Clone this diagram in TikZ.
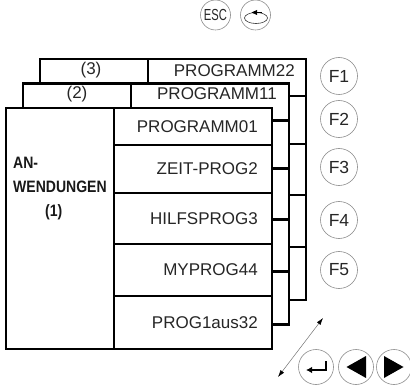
\documentclass[tikz,border=0pt]{standalone}
\usepackage{fontspec}
\setmainfont{Liberation Sans}
\usetikzlibrary{arrows.meta}
\begin{document}
\begin{tikzpicture}[x=1pt,y=-1pt,
  frame/.style={line width=2.6pt, fill=white},
  rowline/.style={line width=2.6pt},
  lbl/.style={font=\fontsize{17}{20}\selectfont, inner sep=0pt, text=black!85},
  keybig/.style={circle, draw=black!45, line width=0.6pt, minimum size=37pt, inner sep=0pt, font=\fontsize{17.5}{19}\selectfont, text=black!85},
  keybot/.style={circle, draw=black!45, line width=0.6pt, minimum size=35pt, inner sep=0pt},
  keysmall/.style={circle, draw=black!45, line width=0.6pt, minimum size=30pt, inner sep=0pt, font=\fontsize{16}{18}\selectfont, text=black!85},
  symb/.style={line width=1.5pt}
]
\useasboundingbox (0,0) rectangle (410,385);

% stacked layers, back to front
\foreach \k in {2,1,0} {
  \begin{scope}[shift={(17*\k,-24.5*\k)}]
    \draw[frame] (6,108) rectangle (272,349);
    \draw[rowline] (114,108) -- (114,349);
    \foreach \yy in {145,193,244,296} \draw[rowline] (114,\yy) -- (272,\yy);
  \end{scope}
}

% back layer labels
\node[lbl, anchor=base] (t3) at (91,75) {(3)};
\node[lbl, anchor=base east] (p22) at (295,77) {PROGRAMM22};
\node[lbl, anchor=base] (t2) at (77,99) {(2)};
\node[lbl, anchor=base east] (p11) at (277,100) {PROGRAMM11};

% front layer
\node[anchor=base west, inner sep=0pt, text=black!90, font=\bfseries\fontsize{16.5}{24}\selectfont] (app) at (13,168.5)
  {\begin{tabular}[t]{@{}l@{}}\scalebox{0.85}[1]{AN-}\\\scalebox{0.85}[1]{WENDUNGEN}\\\hspace{32pt}\scalebox{0.85}[1]{(1)}\end{tabular}};
\node[lbl, anchor=base east] (r1) at (258,132.5) {PROGRAMM01};
\node[lbl, anchor=base east] (r2) at (258,175) {ZEIT-PROG2};
\node[lbl, anchor=base east] (r3) at (258,224.5) {HILFSPROG3};
\node[lbl, anchor=base east] (r4) at (258,276) {MYPROG44};
\node[lbl, anchor=base east] (r5) at (258,328.5) {PROG1aus32};

% top keys
\node[keysmall] (esc) at (215.5,15) {\scalebox{0.7}[1]{ESC}};
\node[keysmall] (back) at (255.5,15) {};
\draw[line width=0.6pt, black!80] ([shift={(0.5,3)}]back.center) ellipse [x radius=11.5, y radius=5.5];
\draw[line width=0.9pt] ([shift={(6,-2.5)}]back.center) -- ([shift={(1,-2.5)}]back.center);
\fill ([shift={(-4,-2.5)}]back.center) -- ([shift={(1.5,-5)}]back.center) -- ([shift={(1.5,0)}]back.center) -- cycle;

% function keys
\node[keybig] (f1) at (339,76) {F1};
\node[keybig] (f2) at (339,119) {F2};
\node[keybig] (f3) at (339,167) {F3};
\node[keybig] (f4) at (339,220) {F4};
\node[keybig] (f5) at (339,270) {F5};

% bottom keys
\node[keybot] (enter) at (316,367) {};
\node[keybot] (left) at (356,367) {};
\node[keybot] (right) at (394,367) {};
\draw[symb, -{Latex[length=6pt,width=6.5pt]}] ([shift={(10,-6)}]enter.center) -- ([shift={(10,3)}]enter.center) -- ([shift={(-10,3)}]enter.center);
\fill ([shift={(-9.5,0)}]left.center) -- ([shift={(10,-11)}]left.center) -- ([shift={(10,11)}]left.center) -- cycle;
\fill ([shift={(9.5,0)}]right.center) -- ([shift={(-10,-11)}]right.center) -- ([shift={(-10,11)}]right.center) -- cycle;

% scroll arrow
\coordinate (s1) at (278,377);
\coordinate (s2) at (323,318);
\draw[black!55, line width=0.5pt, {Latex[black,length=7pt,width=4.5pt]}-{Latex[black,length=7pt,width=4.5pt]}] (s1) -- (s2);
\end{tikzpicture}
\end{document}
